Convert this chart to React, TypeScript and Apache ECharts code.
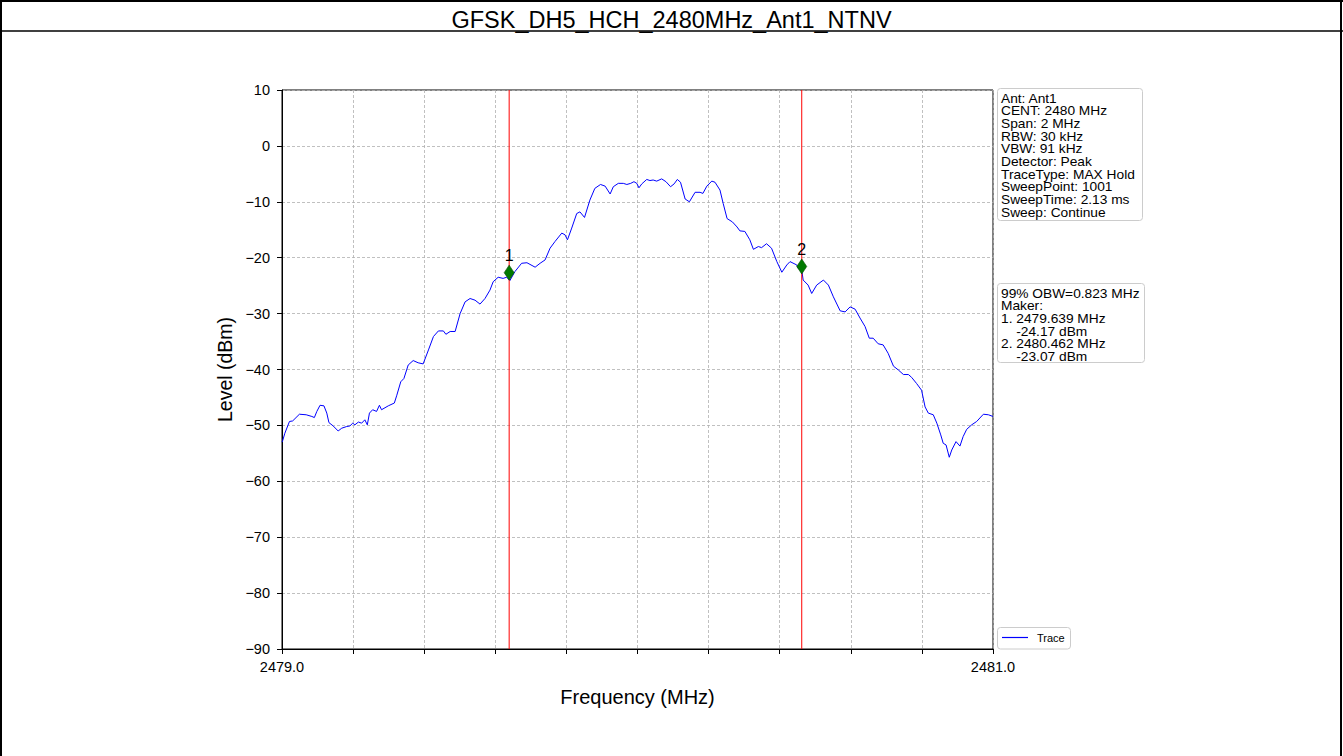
import React, { useEffect, useRef } from "react";
import * as echarts from "echarts";

const titleText = "GFSK_DH5_HCH_2480MHz_Ant1_NTNV";
const xAxisName = "Frequency (MHz)";
const yAxisName = "Level (dBm)";
const seriesName = "Trace";

const freqs = [
  2479.000, 2479.002, 2479.008, 2479.021, 2479.030, 2479.049, 2479.068, 2479.084, 2479.091, 2479.098,
  2479.107, 2479.118, 2479.126, 2479.132, 2479.144, 2479.158, 2479.168, 2479.182, 2479.191, 2479.199,
  2479.205, 2479.215, 2479.224, 2479.233, 2479.240, 2479.246, 2479.255, 2479.266, 2479.274, 2479.280,
  2479.299, 2479.316, 2479.323, 2479.334, 2479.343, 2479.355, 2479.369, 2479.383, 2479.397, 2479.412,
  2479.426, 2479.440, 2479.454, 2479.461, 2479.473, 2479.487, 2479.501, 2479.515, 2479.529, 2479.543,
  2479.557, 2479.571, 2479.585, 2479.594, 2479.608, 2479.622, 2479.632, 2479.641, 2479.655, 2479.674,
  2479.689, 2479.712, 2479.726, 2479.740, 2479.754, 2479.768, 2479.787, 2479.796, 2479.803, 2479.815,
  2479.829, 2479.838, 2479.851, 2479.866, 2479.880, 2479.896, 2479.909, 2479.923, 2479.932, 2479.946,
  2479.960, 2479.970, 2479.981, 2479.990, 2479.998, 2480.004, 2480.012, 2480.026, 2480.035, 2480.044,
  2480.054, 2480.068, 2480.080, 2480.093, 2480.103, 2480.112, 2480.121, 2480.134, 2480.146, 2480.162,
  2480.176, 2480.184, 2480.195, 2480.209, 2480.218, 2480.232, 2480.241, 2480.252, 2480.267, 2480.280,
  2480.288, 2480.302, 2480.316, 2480.326, 2480.340, 2480.349, 2480.363, 2480.377, 2480.392, 2480.406,
  2480.420, 2480.429, 2480.448, 2480.452, 2480.462, 2480.466, 2480.480, 2480.490, 2480.504, 2480.523,
  2480.537, 2480.551, 2480.570, 2480.584, 2480.598, 2480.612, 2480.626, 2480.640, 2480.652, 2480.663,
  2480.677, 2480.691, 2480.705, 2480.720, 2480.734, 2480.748, 2480.762, 2480.771, 2480.785, 2480.799,
  2480.809, 2480.818, 2480.832, 2480.842, 2480.853, 2480.860, 2480.868, 2480.877, 2480.884, 2480.896,
  2480.907, 2480.916, 2480.926, 2480.940, 2480.954, 2480.973, 2480.987, 2481.000,
];

const levels = [
  -53.0, -52.7, -51.4, -49.3, -49.2, -48.0, -48.1, -48.4, -48.6, -47.5,
  -46.4, -46.5, -47.8, -49.5, -50.1, -51.0, -50.5, -50.2, -50.1, -49.6,
  -49.9, -49.4, -49.6, -49.0, -49.9, -47.8, -47.2, -47.5, -46.4, -47.2,
  -46.5, -46.0, -44.6, -42.2, -41.6, -39.2, -38.4, -38.8, -39.0, -36.5,
  -34.1, -33.1, -33.1, -33.7, -33.2, -33.2, -30.0, -27.9, -27.3, -27.6,
  -28.3, -27.3, -25.8, -24.3, -23.5, -23.7, -23.5, -24.1, -22.5, -21.0,
  -20.9, -21.7, -21.0, -20.4, -18.3, -17.1, -15.6, -15.9, -16.8, -14.7,
  -12.1, -11.8, -12.8, -9.7, -7.6, -6.9, -7.2, -8.6, -7.3, -6.7,
  -6.7, -6.9, -6.7, -6.4, -6.7, -7.5, -6.8, -6.0, -6.2, -6.1,
  -6.3, -5.9, -6.4, -7.3, -6.8, -6.0, -6.5, -9.5, -10.0, -8.3,
  -8.3, -8.5, -7.2, -6.3, -6.5, -7.9, -10.3, -13.0, -13.6, -14.5,
  -15.2, -15.3, -16.8, -18.5, -18.0, -18.2, -17.5, -18.3, -20.7, -22.6,
  -21.3, -20.7, -21.3, -21.9, -22.2, -24.0, -24.9, -26.4, -24.9, -24.0,
  -24.9, -27.0, -29.5, -29.7, -28.8, -29.2, -30.8, -32.3, -34.4, -34.4,
  -35.4, -35.6, -37.1, -39.4, -40.1, -40.9, -40.9, -41.4, -42.5, -43.7,
  -46.7, -47.8, -48.1, -49.6, -51.7, -53.2, -53.5, -55.7, -54.4, -52.9,
  -53.7, -52.0, -50.7, -49.9, -49.3, -48.0, -48.1, -48.4,
];

const markerNames = ["1", "2"];
const markerFreqs = [2479.639, 2480.462];
const markerLevels = [-24.17, -23.07];
const markerOffset = 1.5;

const xMin = 2479;
const xMax = 2481;
const xStep = 0.2;
const yMin = -90;
const yMax = 10;
const yStep = 10;

const infoLines = [
  "Ant: Ant1",
  "CENT: 2480 MHz",
  "Span: 2 MHz",
  "RBW: 30 kHz",
  "VBW: 91 kHz",
  "Detector: Peak",
  "TraceType: MAX Hold",
  "SweepPoint: 1001",
  "SweepTime: 2.13 ms",
  "Sweep: Continue",
];

const obwLines = [
  "99% OBW=0.823 MHz",
  "Maker:",
  "1. 2479.639 MHz",
  "    -24.17 dBm",
  "2. 2480.462 MHz",
  "    -23.07 dBm",
];

const FONT = "'Liberation Sans', Arial, Helvetica, sans-serif";

export default function App() {
  const ref = useRef<HTMLDivElement>(null);

  useEffect(() => {
    document.body.style.margin = "0";
    if (!ref.current) return;
    const chart = echarts.init(ref.current, undefined, { renderer: "svg" });

    const lineData = freqs.map((f, i) => [f, levels[i]]);
    const markerData = markerFreqs.map((f, i) => [f, markerLevels[i] + markerOffset, markerNames[i]]);

    const markerLineSeries = markerFreqs.map((f, i) => ({
      name: "markerLine" + markerNames[i],
      type: "line",
      data: [
        [f, yMin],
        [f, yMax],
      ],
      showSymbol: false,
      symbol: "none",
      silent: true,
      lineStyle: { color: "#ff0000", width: 1, type: "solid" },
      itemStyle: { color: "#ff0000" },
      z: 3,
    }));

    const boxText = (lines: string[], x: number, y: number) => ({
      type: "group",
      x,
      y,
      z: 11,
      children: lines.map((t, i) => ({
        type: "text",
        x: 0,
        y: i * 12.67,
        scaleX: 1.1,
        z: 11,
        style: {
          text: t,
          font: `12.5px ${FONT}`,
          fill: "#000",
          verticalAlign: "top",
          align: "left",
        },
      })),
    });

    const option: any = {
      animation: false,
      backgroundColor: "#ffffff",
      textStyle: { fontFamily: FONT },
      title: {
        text: titleText,
        left: "center",
        top: 3,
        textStyle: { fontSize: 23.5, fontWeight: "normal", color: "#000", fontFamily: FONT },
      },
      grid: {
        left: 282,
        top: 90,
        width: 711,
        height: 559,
        show: true,
        borderColor: "#000",
        borderWidth: 1,
        backgroundColor: "transparent",
      },
      xAxis: {
        type: "value",
        min: xMin,
        max: xMax,
        interval: xStep,
        name: xAxisName,
        nameLocation: "middle",
        nameGap: 38,
        nameTextStyle: { fontSize: 20, color: "#000", fontFamily: FONT },
        axisLine: { show: true, onZero: false, lineStyle: { color: "#000", width: 1 } },
        axisTick: { show: true, length: 5, lineStyle: { color: "#000" } },
        axisLabel: {
          show: true,
          fontSize: 14.5,
          color: "#000",
          margin: 10,
          fontFamily: FONT,
          showMinLabel: true,
          showMaxLabel: true,
          formatter: (v: number) =>
            Math.abs(v - xMin) < 1e-6 || Math.abs(v - xMax) < 1e-6 ? v.toFixed(1) : "",
        },
        splitLine: { show: true, lineStyle: { color: "#b0b0b0", type: [3, 2], width: 0.8 } },
      },
      yAxis: {
        type: "value",
        min: yMin,
        max: yMax,
        interval: yStep,
        name: yAxisName,
        nameLocation: "middle",
        nameGap: 45,
        nameTextStyle: { fontSize: 19.5, color: "#000", fontFamily: FONT },
        axisLine: { show: true, onZero: false, lineStyle: { color: "#000", width: 1 } },
        axisTick: { show: true, length: 5, lineStyle: { color: "#000" } },
        axisLabel: {
          fontSize: 14.5,
          color: "#000",
          margin: 12,
          fontFamily: FONT,
          formatter: (v: number) => (v < 0 ? "\u2212" + Math.abs(v) : String(v)),
        },
        splitLine: { show: true, lineStyle: { color: "#b0b0b0", type: [3, 2], width: 0.8 } },
      },
      series: [
        {
          name: seriesName,
          type: "line",
          data: lineData,
          showSymbol: false,
          symbol: "none",
          lineStyle: { color: "#0000ff", width: 1 },
          itemStyle: { color: "#0000ff" },
          z: 2,
        },
        ...markerLineSeries,
        {
          name: "markers",
          type: "scatter",
          data: markerData,
          symbol: "diamond",
          symbolSize: [10, 15],
          itemStyle: { color: "#007a00", borderColor: "#004d00", borderWidth: 0.6, opacity: 1 },
          z: 4,
          label: {
            show: true,
            position: "top",
            distance: 1,
            fontSize: 16,
            color: "#000",
            fontFamily: FONT,
            formatter: (p: any) => p.data[2],
          },
        },
      ],
      graphic: [
        { type: "line", shape: { x1: 0, y1: 1, x2: 1343, y2: 1 }, style: { stroke: "#000", lineWidth: 2 } },
        { type: "line", shape: { x1: 1, y1: 0, x2: 1, y2: 756 }, style: { stroke: "#000", lineWidth: 2 } },
        { type: "line", shape: { x1: 1341, y1: 0, x2: 1341, y2: 756 }, style: { stroke: "#000", lineWidth: 2 } },
        { type: "line", shape: { x1: 0, y1: 31, x2: 1343, y2: 31 }, style: { stroke: "#000", lineWidth: 1.5 } },
        {
          type: "rect",
          shape: { x: 997.5, y: 88.5, width: 145, height: 132, r: 3 },
          style: { fill: "#fff", stroke: "#cccccc", lineWidth: 1 },
          z: 10,
        },
        boxText(infoLines, 1001, 92),
        {
          type: "rect",
          shape: { x: 997.5, y: 283.5, width: 147, height: 79, r: 3 },
          style: { fill: "#fff", stroke: "#cccccc", lineWidth: 1 },
          z: 10,
        },
        boxText(obwLines, 1001, 287),
        {
          type: "rect",
          shape: { x: 997.5, y: 627.5, width: 73, height: 21.5, r: 3 },
          style: { fill: "#fff", stroke: "#cccccc", lineWidth: 1 },
          z: 10,
        },
        {
          type: "line",
          shape: { x1: 1002, y1: 637.5, x2: 1028, y2: 637.5 },
          style: { stroke: "#0000ff", lineWidth: 1.2 },
          z: 11,
        },
        {
          type: "text",
          x: 1037,
          y: 638,
          z: 11,
          style: {
            text: seriesName,
            font: `11px ${FONT}`,
            fill: "#000",
            verticalAlign: "middle",
            align: "left",
          },
        },
      ],
    };

    chart.setOption(option);
    return () => chart.dispose();
  }, []);

  return <div ref={ref} style={{ width: 1343, height: 756 }} />;
}
